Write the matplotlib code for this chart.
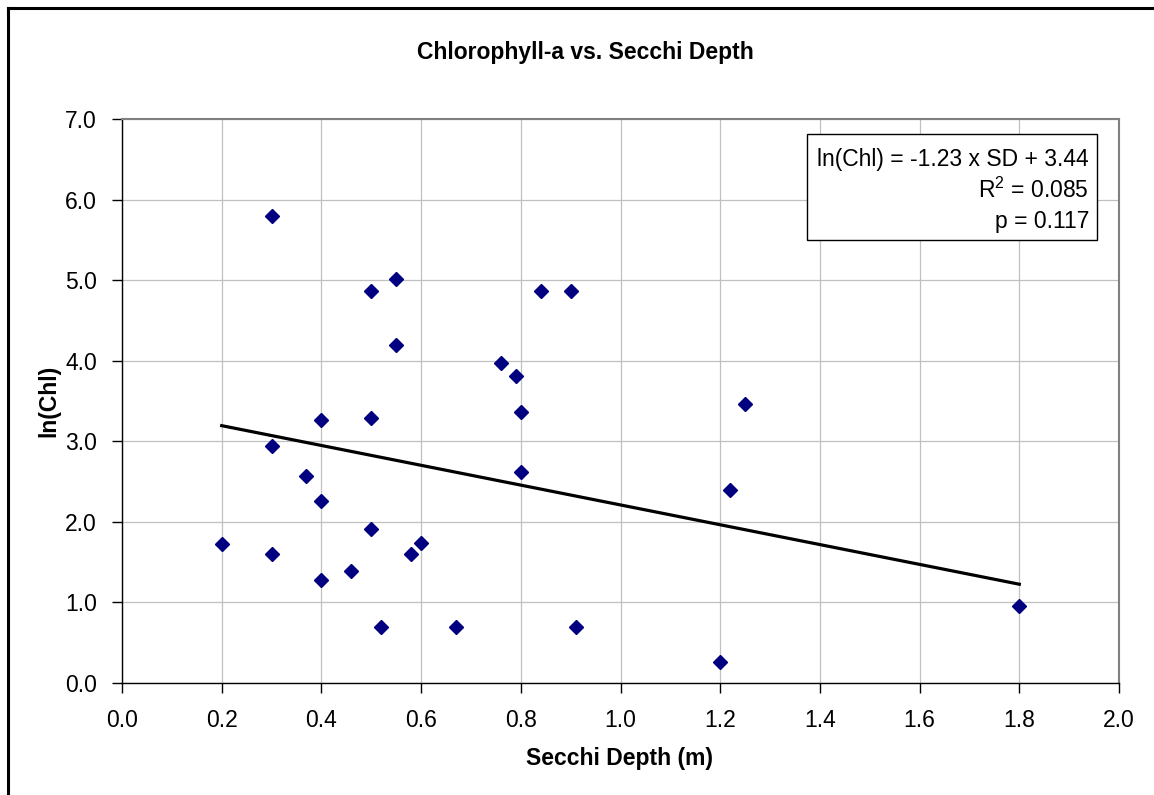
import matplotlib
matplotlib.use("Agg")
from matplotlib import pyplot as plt
from matplotlib.patches import Rectangle
from matplotlib.lines import Line2D

plt.rcParams["font.family"] = ["Liberation Sans", "DejaVu Sans"]
plt.rcParams["mathtext.fontset"] = "custom"
plt.rcParams["mathtext.rm"] = "Liberation Sans"
plt.rcParams["mathtext.it"] = "Liberation Sans:italic"

# Secchi depth (m) and ln(Chl)
secchi = [0.20, 0.30, 0.30, 0.30, 0.37, 0.40, 0.40, 0.40, 0.46, 0.50,
          0.50, 0.50, 0.52, 0.55, 0.55, 0.58, 0.60, 0.67, 0.76, 0.79,
          0.80, 0.80, 0.84, 0.90, 0.91, 1.20, 1.22, 1.25, 1.80]
ln_chl = [1.72, 5.79, 2.94, 1.60, 2.57, 3.26, 2.26, 1.28, 1.39, 4.87,
          3.29, 1.91, 0.69, 5.01, 4.19, 1.60, 1.74, 0.69, 3.97, 3.81,
          3.36, 2.62, 4.87, 4.87, 0.69, 0.26, 2.40, 3.46, 0.96]

slope = -1.23
intercept = 3.44
fit_x = [min(secchi), max(secchi)]
fit_y = [slope * x + intercept for x in fit_x]

x_ticks = [0.0, 0.2, 0.4, 0.6, 0.8, 1.0, 1.2, 1.4, 1.6, 1.8, 2.0]
y_ticks = [0.0, 1.0, 2.0, 3.0, 4.0, 5.0, 6.0, 7.0]

W, H = 1154, 795
fig = plt.figure(figsize=(W / 100, H / 100), dpi=100)
ax = fig.add_axes([122 / W, 1 - 683 / H, (1119 - 122) / W, (683 - 119) / H])

fs = 16.5

ax.grid(True, color="#c0c0c0", linewidth=0.9)
ax.set_axisbelow(True)
ax.plot(fit_x, fit_y, color="black", linewidth=2.3, zorder=3)
ax.plot(secchi, ln_chl, linestyle="none", marker="D", markersize=7,
        color="#000080", zorder=4)

ax.set_xlim(0, 2.0)
ax.set_ylim(0, 7.0)
ax.set_xticks(x_ticks)
ax.set_yticks(y_ticks)
ax.set_xticklabels([f"{v:.1f}" for v in x_ticks], fontsize=fs)
ax.set_yticklabels([f"{v:.1f}" for v in y_ticks], fontsize=fs)
ax.tick_params(direction="out", length=7, width=1, color="black")
ax.tick_params(axis="x", pad=12)
ax.tick_params(axis="y", pad=11)

for s in ["left", "bottom"]:
    ax.spines[s].set_color("black")
    ax.spines[s].set_linewidth(1.0)
for s in ["top", "right"]:
    ax.spines[s].set_color("#808080")
    ax.spines[s].set_linewidth(1.5)

fig.text(585 / W, 1 - 53 / H, "Chlorophyll-a vs. Secchi Depth",
         ha="center", va="center", fontsize=fs, fontweight="bold")
fig.text(620 / W, 1 - 758 / H, "Secchi Depth (m)",
         ha="center", va="center", fontsize=fs, fontweight="bold")
fig.text(49 / W, 1 - 401 / H, "ln(Chl)", rotation=90,
         ha="center", va="center", fontsize=fs, fontweight="bold")

# equation box
fig.patches.append(Rectangle((807 / W, 1 - 240 / H), 290 / W, 106 / H,
                             transform=fig.transFigure, facecolor="white",
                             edgecolor="black", linewidth=1.0, zorder=5))
box_lines = ["ln(Chl) = -1.23 x SD + 3.44", r"R$^\mathregular{2}$ = 0.085", "p = 0.117"]
for txt, yb in zip(box_lines, [166, 198, 228]):
    fig.text(1089 / W, 1 - yb / H, txt, ha="right", va="baseline",
             fontsize=fs, zorder=6)

# outer chart border (top and left visible)
fig.add_artist(Line2D([8 / W, 8 / W], [0, 1 - 8 / H], transform=fig.transFigure,
                      color="black", linewidth=2.2))
fig.add_artist(Line2D([8 / W, 1], [1 - 8 / H, 1 - 8 / H], transform=fig.transFigure,
                      color="black", linewidth=2.2))

fig.savefig("out.png", dpi=100)
